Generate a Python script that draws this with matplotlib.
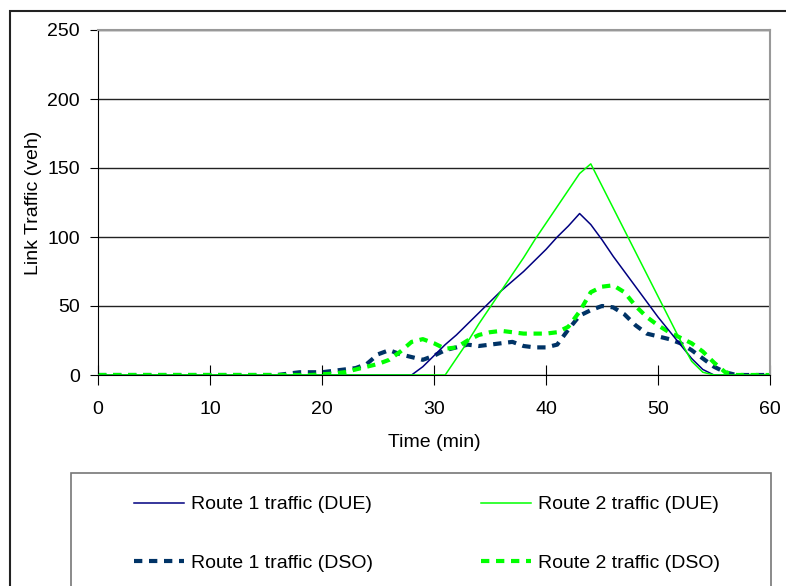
import matplotlib.pyplot as plt
import matplotlib.patches as mpatches
import numpy as np

# time axis, one value per minute
t = np.arange(0, 61)

route1_due = [0] * 29 + [6, 14, 22, 29, 37, 45, 53, 61, 68, 75, 83, 91, 100, 108, 117,
                         109, 98, 86, 75, 64, 53, 42, 32, 22, 12, 4] + [0] * 6
route2_due = [0] * 32 + [12, 24, 37, 49, 61, 73, 85, 98, 110, 122, 134, 146, 153,
                         137, 121, 105, 89, 73, 57, 41, 25, 10, 2] + [0] * 6
route1_dso = [0] * 17 + [1, 2, 2, 2, 3, 4, 5, 8, 15, 18, 15, 13, 11, 14, 18, 20, 22, 21,
                         22, 23, 24, 21, 20, 20, 22, 33, 43, 47, 50, 49, 44, 36, 30, 28,
                         26, 23, 18, 12, 6, 2] + [0] * 4
route2_dso = [0] * 20 + [0.5, 1, 2, 4, 6, 8, 11, 17, 24, 26, 23, 19, 20, 25, 29, 31, 32,
                         31, 30, 30, 30, 31, 35, 46, 60, 64, 65, 60, 50, 42, 36, 31, 27,
                         23, 17, 9, 2] + [0] * 4

labels = ["Route 1 traffic (DUE)", "Route 1 traffic (DSO)",
          "Route 2 traffic (DUE)", "Route 2 traffic (DSO)"]

plt.rcParams["font.family"] = ["Liberation Sans", "DejaVu Sans"]
plt.rcParams["font.size"] = 14

fig = plt.figure(figsize=(7.86, 5.86), dpi=100)
ax = fig.add_axes([98 / 786, 1 - 375 / 586, (770 - 98) / 786, (375 - 30) / 586])

l1, = ax.plot(t, route1_due, color="#000080", lw=1.1, zorder=3)
l3, = ax.plot(t, route2_due, color="#00ff00", lw=1.1, zorder=3)
l2, = ax.plot(t, route1_dso, color="#003366", lw=3, dashes=(2, 1.6), zorder=2)
l4, = ax.plot(t, route2_dso, color="#00ff00", lw=3, dashes=(2, 1.6), zorder=2)

ax.set_xlim(0, 60)
ax.set_ylim(0, 250)
ax.set_xticks(range(0, 61, 10))
ax.set_yticks(range(0, 251, 50))
ax.yaxis.grid(True, color="#222222", lw=1)
ax.set_axisbelow(True)
for s in ["top", "right"]:
    ax.spines[s].set_color("#999999")
    ax.spines[s].set_linewidth(1.5)
ax.spines["left"].set_color("black")
ax.spines["bottom"].set_color("black")
ax.tick_params(axis="x", direction="inout", length=14, pad=12, labelsize=14)
ax.tick_params(axis="y", direction="out", length=6, pad=7, labelsize=14)
ax.set_xlabel("Time (min)", labelpad=11)
ax.set_ylabel("Link Traffic (veh)", labelpad=4)

# outer chart border (top and left only visible)
fig.add_artist(mpatches.Rectangle((10 / 786, -0.2), 1.2, 0.2 + 1 - 11 / 586,
                                  transform=fig.transFigure, fill=False,
                                  ec="#222222", lw=1.5))
# legend box, runs past the bottom edge
fig.add_artist(mpatches.Rectangle((71 / 786, -0.2), (771 - 71) / 786, 0.2 + 1 - 473 / 586,
                                  transform=fig.transFigure, fill=False,
                                  ec="#777777", lw=1.2))

fig.legend([l1, l2, l3, l4], labels, ncol=2, frameon=False,
           loc="upper left", bbox_to_anchor=(124 / 786, 1 - 486 / 586),
           borderpad=0, handlelength=2.6, handletextpad=0.33,
           columnspacing=5.55, labelspacing=2.1, fontsize=14)

fig.savefig("out.png", dpi=100)
